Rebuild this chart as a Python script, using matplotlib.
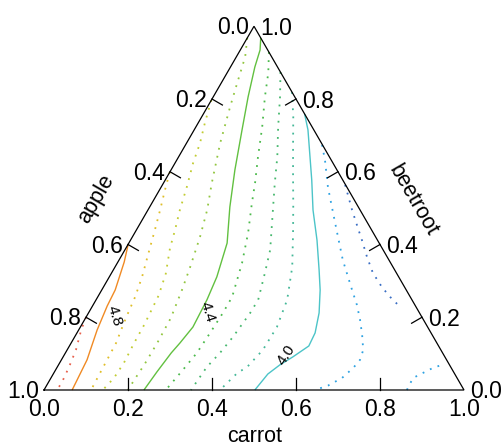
import numpy as np
import matplotlib
matplotlib.use('Agg')
import matplotlib.pyplot as plt

plt.rcParams['font.family'] = ['Liberation Sans', 'DejaVu Sans']

# ---------------- data ----------------
axis_left = 'apple'      # 1 at bottom-left vertex
axis_right = 'beetroot'  # 1 at top vertex
axis_bottom = 'carrot'   # 1 at bottom-right vertex
tick_values = [0.0, 0.2, 0.4, 0.6, 0.8, 1.0]
tick_labels = ['0.0', '0.2', '0.4', '0.6', '0.8', '1.0']

# contour lines, as (carrot, beetroot) compositions
carrot_49 = [0.000, 0.006, 0.021, 0.028, 0.032, 0.031]
beet_49 = [0.200, 0.165, 0.110, 0.063, 0.022, 0.000]

carrot_48 = [0.000, 0.015, 0.032, 0.035, 0.044, 0.061, 0.065, 0.067]
beet_48 = [0.401, 0.352, 0.275, 0.231, 0.165, 0.083, 0.028, 0.000]

carrot_47 = [0.000, 0.013, 0.029, 0.044, 0.057, 0.078, 0.089, 0.096, 0.107, 0.109, 0.110, 0.112]
beet_47 = [0.599, 0.550, 0.495, 0.440, 0.390, 0.311, 0.256, 0.198, 0.129, 0.077, 0.050, 0.000]

carrot_46 = [0.000, 0.016, 0.032, 0.043, 0.061, 0.076, 0.092, 0.105, 0.130, 0.143, 0.149, 0.150, 0.153, 0.150, 0.140]
beet_46 = [0.797, 0.734, 0.679, 0.624, 0.558, 0.495, 0.440, 0.390, 0.320, 0.260, 0.179, 0.129, 0.074, 0.033, 0.000]

carrot_45 = [0.000, 0.021, 0.038, 0.054, 0.080, 0.115, 0.141, 0.161, 0.179, 0.191, 0.203, 0.205, 0.204, 0.201, 0.200]
beet_45 = [0.968, 0.916, 0.844, 0.778, 0.679, 0.569, 0.495, 0.421, 0.338, 0.275, 0.198, 0.129, 0.069, 0.028, 0.000]

carrot_44 = [0.032, 0.047, 0.058, 0.083, 0.114, 0.152, 0.191, 0.234, 0.256, 0.264, 0.268, 0.259, 0.252, 0.244, 0.238]
beet_44 = [0.968, 0.935, 0.888, 0.806, 0.715, 0.605, 0.503, 0.404, 0.311, 0.248, 0.173, 0.129, 0.102, 0.050, 0.000]

carrot_43 = [0.071, 0.098, 0.123, 0.158, 0.189, 0.218, 0.238, 0.270, 0.297, 0.320, 0.320, 0.317, 0.313, 0.303, 0.290]
beet_43 = [0.929, 0.872, 0.806, 0.723, 0.641, 0.569, 0.514, 0.432, 0.349, 0.256, 0.212, 0.157, 0.102, 0.055, 0.000]

carrot_42 = [0.126, 0.159, 0.196, 0.235, 0.265, 0.294, 0.346, 0.365, 0.386, 0.385, 0.377, 0.368, 0.356, 0.350]
beet_42 = [0.874, 0.806, 0.723, 0.641, 0.569, 0.503, 0.385, 0.322, 0.248, 0.212, 0.146, 0.102, 0.063, 0.000]

carrot_41 = [0.181, 0.218, 0.259, 0.300, 0.339, 0.377, 0.422, 0.455, 0.468, 0.466, 0.452, 0.437, 0.419]
beet_41 = [0.819, 0.751, 0.668, 0.586, 0.509, 0.432, 0.338, 0.248, 0.173, 0.110, 0.063, 0.047, 0.000]

carrot_40 = [0.241, 0.271, 0.349, 0.393, 0.444, 0.490, 0.520, 0.549, 0.567, 0.570, 0.547, 0.527, 0.511, 0.502]
beet_40 = [0.759, 0.715, 0.577, 0.495, 0.412, 0.330, 0.275, 0.212, 0.157, 0.121, 0.091, 0.069, 0.044, 0.000]

carrot_39 = [0.325, 0.353, 0.397, 0.434, 0.482, 0.533, 0.596, 0.628, 0.656, 0.682, 0.705, 0.711, 0.706, 0.693, 0.670, 0.645]
beet_39 = [0.674, 0.632, 0.558, 0.503, 0.432, 0.357, 0.275, 0.234, 0.193, 0.151, 0.110, 0.083, 0.061, 0.033, 0.012, 0.000]

carrot_39b = [0.864, 0.862, 0.879, 0.896, 0.913]
beet_39b = [0.000, 0.033, 0.047, 0.061, 0.069]

carrot_38 = [0.435, 0.486, 0.525, 0.551, 0.586, 0.622, 0.663, 0.696, 0.726]
beet_38 = [0.564, 0.495, 0.445, 0.412, 0.366, 0.322, 0.283, 0.256, 0.234]

levels = [4.9, 4.8, 4.7, 4.6, 4.5, 4.4, 4.3, 4.2, 4.1, 4.0, 3.9, 3.9, 3.8]
level_carrot = [carrot_49, carrot_48, carrot_47, carrot_46, carrot_45, carrot_44,
                carrot_43, carrot_42, carrot_41, carrot_40, carrot_39, carrot_39b, carrot_38]
level_beet = [beet_49, beet_48, beet_47, beet_46, beet_45, beet_44,
              beet_43, beet_42, beet_41, beet_40, beet_39, beet_39b, beet_38]
level_colors = {4.9: '#E8604C', 4.8: '#F08A24', 4.7: '#E0BE28', 4.6: '#C2CC32',
                4.5: '#92C640', 4.4: '#62C040', 4.3: '#4CBA4C', 4.2: '#46B86E',
                4.1: '#44B898', 4.0: '#4CC4C8', 3.9: '#2EA2E2', 3.8: '#3A6EC4'}
labelled_levels = [4.8, 4.4, 4.0]
label_carrot = [0.067, 0.283, 0.528]
label_beet = [0.2035, 0.2145, 0.096]
label_rot = [-73, -73, 56]

# ---------------- drawing ----------------
S3 = np.sqrt(3) / 2


def tern(c, b):
    c = np.asarray(c, float)
    b = np.asarray(b, float)
    return c + b / 2, b * S3


PX = 1 / 420.0  # one pixel in data units

fig = plt.figure(figsize=(5.03, 4.46), dpi=100)
ax = fig.add_axes([0, 0, 1, 1])
ax.set_xlim(-44 * PX, 459 * PX)
ax.set_ylim(-56 * PX, 390 * PX)
ax.axis('off')

for lev, cs, bs in zip(levels, level_carrot, level_beet):
    x, y = tern(cs, bs)
    if lev in labelled_levels:
        ax.plot(x, y, color=level_colors[lev], lw=1.0, solid_capstyle='butt')
    else:
        ax.plot(x, y, color=level_colors[lev], lw=1.3, linestyle=(0, (1, 3.5)),
                dash_capstyle='butt')

for lev, c, b, r in zip(labelled_levels, label_carrot, label_beet, label_rot):
    x, y = tern(c, b)
    ax.text(x, y, f'{lev:.1f}', rotation=r, ha='center', va='center',
            fontsize=11, rotation_mode='anchor')

# triangle
tx, ty = tern([0, 1, 0, 0], [0, 0, 1, 0])
ax.plot(tx, ty, color='black', lw=0.9, solid_joinstyle='miter')

TL = 12 * PX
FS = 16.5
for t, lab in zip(tick_values, tick_labels):
    # bottom: carrot
    bx, by = tern(t, 0)
    if 0 < t < 1:
        ax.plot([bx, bx], [by, by + TL], color='black', lw=0.9)
    ax.text(bx, by - 20 * PX, lab, ha='center', va='center', fontsize=FS)
    # left: apple  (carrot=0, beetroot = 1 - apple)
    lx, ly = tern(0, 1 - t)
    if 0 < t < 1:
        ax.plot([lx, lx + TL * S3], [ly, ly - TL * 0.5], color='black', lw=0.9)
    ax.text(lx - 5 * PX, ly - 1.5 * PX, lab, ha='right', va='center', fontsize=FS)
    # right: beetroot (carrot = 1 - beetroot)
    rx, ry = tern(1 - t, t)
    if 0 < t < 1:
        ax.plot([rx, rx - TL * S3], [ry, ry - TL * 0.5], color='black', lw=0.9)
    ax.text(rx + 6 * PX, ry - 2 * PX, lab, ha='left', va='center', fontsize=FS)

# axis titles
ax.text(96 * PX - 44 * PX, (390 - 199) * PX, axis_left, rotation=60,
        ha='center', va='center', fontsize=15.5)
ax.text((413 - 44) * PX, (390 - 200) * PX, axis_right, rotation=-60,
        ha='center', va='center', fontsize=15.5)
ax.text((255 - 44) * PX, (390 - 436) * PX, axis_bottom,
        ha='center', va='center', fontsize=15.5)

fig.savefig('out.png', dpi=100)
